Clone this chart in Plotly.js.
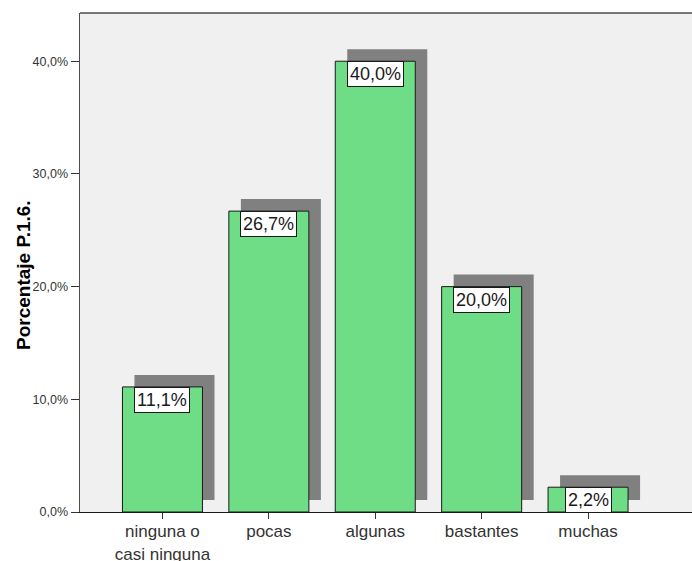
<!DOCTYPE html>
<html>
<head>
<meta charset="utf-8">
<script src="https://cdn.plot.ly/plotly-3.0.1.min.js"></script>
<style>
  html, body { margin: 0; padding: 0; background: #ffffff; }
  #chart { width: 692px; height: 561px; }
</style>
</head>
<body>
<div id="chart"></div>
<script>
// Answer categories for P.1.6 and their percentages
const categories = ['ninguna o<br>casi ninguna', 'pocas', 'algunas', 'bastantes', 'muchas'];
const percentages = [11.1, 26.7, 40.0, 20.0, 2.2];
const yTickValues = [0, 10, 20, 30, 40];
const yTitle = 'Porcentaje P.1.6.';

const fmt = v => v.toFixed(1).replace('.', ',') + '%';
const yTickText = yTickValues.map(fmt);

const FONT = 'Liberation Sans, Arial, sans-serif';

// drop-shadow geometry (category units / percent units)
const barWidth = 0.752;
const shadowDx = 0.113;
const shadowDy = 1.065;

const shadow = {
  type: 'bar',
  x: categories,
  y: percentages,
  base: percentages.map(() => shadowDy),
  width: barWidth,
  offset: -barWidth / 2 + shadowDx,
  marker: { color: '#808080', line: { width: 0 } },
  hoverinfo: 'skip',
  showlegend: false
};

const bars = {
  type: 'bar',
  x: categories,
  y: percentages,
  width: barWidth,
  marker: { color: '#6fdd85', line: { color: '#1a1a1a', width: 1 } },
  showlegend: false
};

// value boxes hanging from the top of each bar
const labels = categories.map((c, i) => ({
  x: c,
  y: percentages[i],
  xref: 'x',
  yref: 'y',
  yanchor: 'top',
  text: fmt(percentages[i]),
  showarrow: false,
  bgcolor: '#ffffff',
  bordercolor: '#1a1a1a',
  borderwidth: 1,
  borderpad: 2,
  font: { family: FONT, size: 18, color: '#1a1a1a' }
}));

// vertical axis caption
labels.push({
  xref: 'paper', yref: 'paper',
  x: -56 / 612, y: 0.475,
  xanchor: 'center', yanchor: 'middle',
  textangle: -90,
  text: yTitle,
  showarrow: false,
  font: { family: FONT, size: 19, color: '#000000', weight: 'bold' }
});

const layout = {
  width: 692,
  height: 561,
  margin: { l: 80, r: 0, t: 13, b: 49 },
  paper_bgcolor: '#ffffff',
  plot_bgcolor: '#f0f0f0',
  barmode: 'overlay',
  font: { family: FONT, color: '#333333' },
  xaxis: {
    range: [-0.775, 4.977],
    showgrid: false,
    zeroline: false,
    showline: true,
    linecolor: '#1a1a1a',
    linewidth: 1,
    ticks: 'outside',
    ticklen: 6,
    tickcolor: '#333333',
    tickfont: { size: 17, color: '#333333' },
    ticklabelstandoff: -2,
    fixedrange: true
  },
  yaxis: {
    range: [0, 44.28],
    tickvals: yTickValues,
    ticktext: yTickText,
    showgrid: false,
    zeroline: false,
    showline: true,
    linecolor: '#4d4d4d',
    linewidth: 1.5,
    ticks: 'outside',
    ticklen: 8,
    tickcolor: '#333333',
    tickfont: { size: 12.5, color: '#333333' },
    fixedrange: true
  },
  shapes: [{
    type: 'line', xref: 'paper', yref: 'paper',
    x0: 0, x1: 1, y0: 1, y1: 1,
    line: { color: '#4d4d4d', width: 1.5 }
  }],
  annotations: labels
};

Plotly.newPlot('chart', [shadow, bars], layout, { displayModeBar: false, staticPlot: true });
</script>
</body>
</html>
